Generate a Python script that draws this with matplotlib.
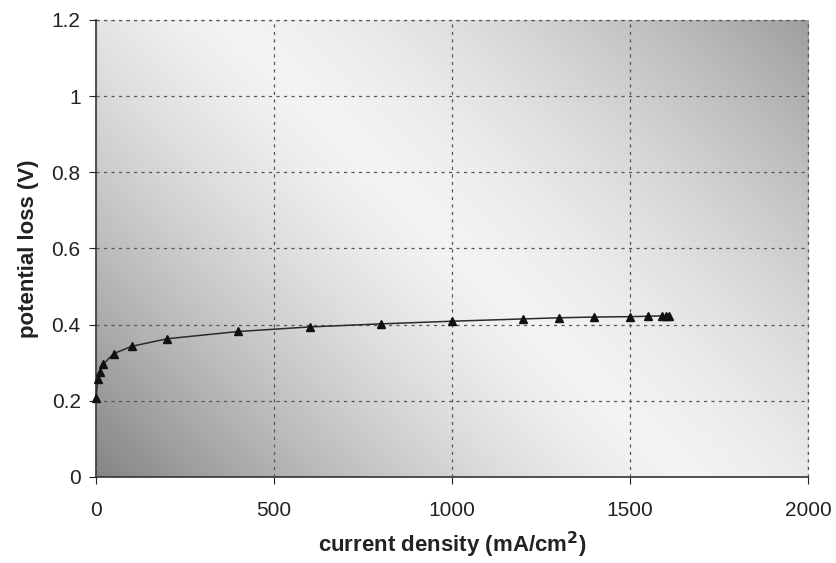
import numpy as np
import matplotlib
matplotlib.use("Agg")
import matplotlib.pyplot as plt

plt.rcParams['font.family'] = ['Liberation Sans', 'DejaVu Sans']

current_density = [0, 5, 10, 20, 50, 100, 200, 400, 600, 800, 1000, 1200, 1300, 1400, 1500, 1550, 1590, 1600, 1610]
potential_loss = [0.208, 0.256, 0.276, 0.296, 0.324, 0.343, 0.363, 0.382, 0.394, 0.402, 0.409, 0.415, 0.418, 0.420, 0.421, 0.422, 0.423, 0.423, 0.423]
xticks = [0, 500, 1000, 1500, 2000]
yticks = [0, 0.2, 0.4, 0.6, 0.8, 1, 1.2]
ytick_labels = ['0', '0.2', '0.4', '0.6', '0.8', '1', '1.2']

fig = plt.figure(figsize=(8.37, 5.63), dpi=100)
ax = fig.add_axes([0.1147, 0.1528, 0.8507, 0.8117])

# diagonal gradient background (dark bottom-left and top-right, light band in between)
W, H = 712.0, 457.0
n = 400
u = np.linspace(0, 1, n)
X, Y = np.meshgrid(u, u)
s = ((X - 0.5) * W + (Y - 0.5) * H) / ((W + H) / 2.0)
light = 0.95
dark_lo, dark_hi = 0.52, 0.62
vals = np.where(s < 0, light - (light - dark_lo) * np.abs(s) ** 1.35,
                light - (light - dark_hi) * np.abs(s) ** 1.5)
ax.imshow(vals, cmap='gray', vmin=0, vmax=1, origin='lower', extent=[0, 1, 0, 1],
          transform=ax.transAxes, aspect='auto', zorder=0, interpolation='bilinear')

ax.plot(current_density, potential_loss, color='#2a2a2a', lw=1.1, marker='^', ms=5.5,
        markerfacecolor='#111111', markeredgecolor='#111111', zorder=3, clip_on=False)

ax.set_xlim(0, 2000)
ax.set_ylim(0, 1.2)
ax.set_xticks(xticks)
ax.set_yticks(yticks)
ax.set_yticklabels(ytick_labels)
ax.tick_params(direction='out', length=5, width=0.8, labelsize=15, colors='#222222')
ax.tick_params(axis='x', pad=12)
ax.tick_params(axis='y', pad=6)

ax.grid(True, color='#555555', linestyle=(0, (2.5, 3.5)), linewidth=0.9, zorder=1)
ax.set_axisbelow(False)
for side in ['top', 'right']:
    ax.spines[side].set_visible(False)
for side in ['left', 'bottom']:
    ax.spines[side].set_color('#333333')
    ax.spines[side].set_linewidth(1.2)
ax.axhline(1.2, color='#555555', linestyle=(0, (2.5, 3.5)), linewidth=0.9, clip_on=False, zorder=2)
ax.axvline(2000, color='#555555', linestyle=(0, (2.5, 3.5)), linewidth=0.9, clip_on=False, zorder=2)

ax.set_xlabel('current density (mA/cm$^{\\mathbf{2}}$)', fontsize=16, fontweight='bold', color='#222222', labelpad=7)
ax.set_ylabel('potential loss (V)', fontsize=16, fontweight='bold', color='#222222', labelpad=9)

fig.savefig('out.png', dpi=100)
